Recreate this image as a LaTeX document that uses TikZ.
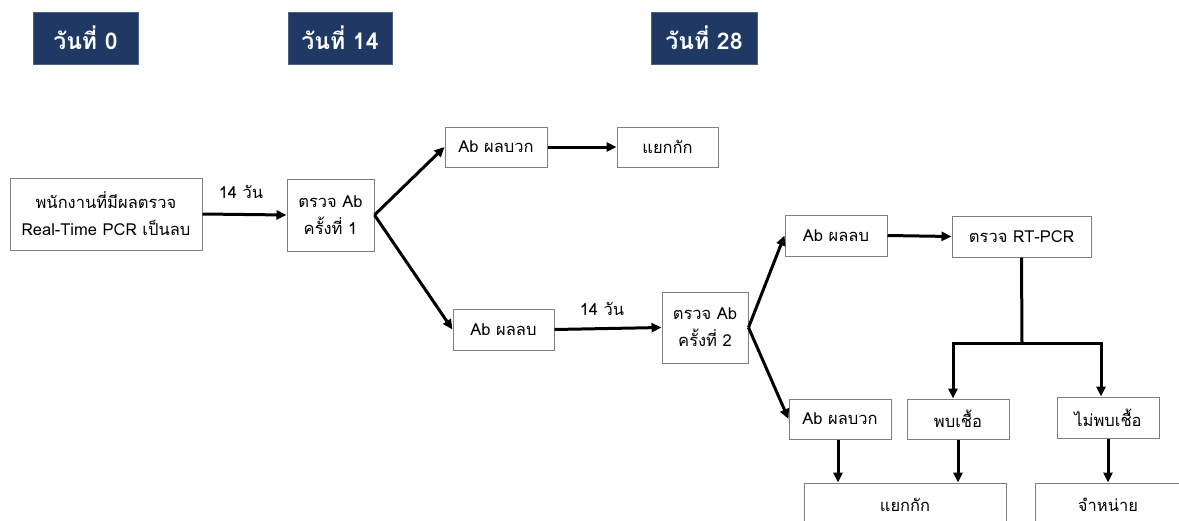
\documentclass[tikz,border=0pt]{standalone}
\usepackage{fontspec}
\newfontfamily\thai[Script=Thai]{Loma}
\usetikzlibrary{arrows.meta}
\definecolor{navy}{HTML}{1F3864}
\definecolor{boxline}{HTML}{7F7F7F}
\tikzset{
  hdr/.style={fill=navy, draw=navy!80!white, text=white, font=\thai\bfseries\fontsize{23}{26}\selectfont, minimum width=105pt, minimum height=52pt, inner sep=0pt},
  bx/.style={draw=boxline, line width=1pt, fill=white, font=\thai\fontsize{16.5}{27}\selectfont, align=center, inner sep=0pt},
  arr/.style={line width=3pt, -{Triangle[length=10pt,width=9pt]}},
  ln/.style={line width=3pt},
  lbl/.style={font=\thai\fontsize{16.5}{18}\selectfont, inner sep=0pt}
}
\begin{document}
\begin{tikzpicture}[x=1pt,y=-1pt]
\useasboundingbox (0,0) rectangle (1179,520);
\clip (0,0) rectangle (1179,520);
% headers
\node[hdr] (h0) at (85.5,38) {วันที่ 0};
\node[hdr, minimum width=104pt] (h14) at (340,38) {วันที่ 14};
\node[hdr, minimum width=106pt] (h28) at (704,38) {วันที่ 28};
% boxes
\node[bx, minimum width=192pt, minimum height=72pt] (start) at (106,214) {พนักงานที่มีผลตรวจ\\Real-Time PCR เป็นลบ};
\node[bx, minimum width=87pt, minimum height=72pt] (t1) at (330.5,215) {ตรวจ Ab\\ครั้งที่ 1};
\node[bx, minimum width=102pt, minimum height=40pt] (p1) at (496,147) {Ab ผลบวก};
\node[bx, minimum width=101pt, minimum height=40pt] (iso1) at (667.5,147) {แยกกัก};
\node[bx, minimum width=101pt, minimum height=41pt] (n1) at (503.5,329.5) {Ab ผลลบ};
\node[bx, minimum width=86pt, minimum height=71pt] (t2) at (705,327.5) {ตรวจ Ab\\ครั้งที่ 2};
\node[bx, minimum width=102pt, minimum height=41pt] (n2) at (836,235.5) {Ab ผลลบ};
\node[bx, minimum width=139pt, minimum height=41pt] (rt) at (1021.5,236.5) {ตรวจ RT-PCR};
\node[bx, minimum width=102pt, minimum height=40pt] (p2) at (840,419) {Ab ผลบวก};
\node[bx, minimum width=102pt, minimum height=40pt] (found) at (958,419) {พบเชื้อ};
\node[bx, minimum width=102pt, minimum height=41pt] (notfound) at (1108,417.5) {ไม่พบเชื้อ};
\node[bx, minimum width=202pt, minimum height=44pt] (iso2) at (905,505) {แยกกัก};
\node[bx, minimum width=146pt, minimum height=44pt] (disp) at (1108,505) {จำหน่าย};
% connectors
\draw[arr] (start.east) -- (t1.west);
\node[lbl] (d1) at (241,192) {14 วัน};
\draw[arr] (t1.east) -- (p1.west);
\draw[arr] (t1.east) -- (n1.west);
\draw[arr] (p1.east) -- (iso1.west);
\draw[arr] (n1.east) -- (t2.west);
\node[lbl] (d2) at (602,309) {14 วัน};
\draw[arr] (t2.east) -- (n2.west);
\draw[arr] (t2.east) -- (p2.west);
\draw[arr] (n2.east) -- (rt.west);
\coordinate (j) at (1022,343);
\draw[ln] (rt.south) -- (j);
\draw[arr] (j) -| ([xshift=-5pt]found.north);
\draw[arr] (j) -| ([xshift=-7pt]notfound.north);
\draw[arr] ([xshift=-2pt]p2.south) -- ([xshift=-2pt]p2.south |- iso2.north);
\draw[arr] (found.south) -- (found.south |- iso2.north);
\draw[arr] (notfound.south) -- (notfound.south |- disp.north);
\end{tikzpicture}
\end{document}
